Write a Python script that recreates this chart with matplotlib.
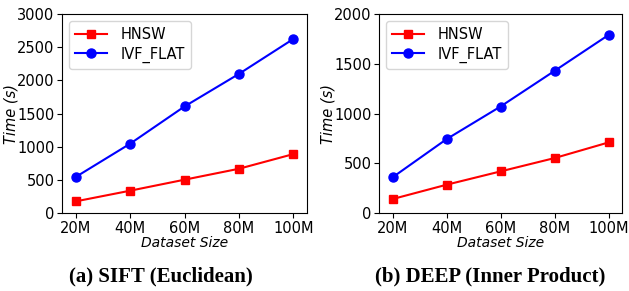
import matplotlib
matplotlib.use("Agg")
import matplotlib.pyplot as plt

sizes = ["20M", "40M", "60M", "80M", "100M"]
sift_hnsw = [175, 336, 502, 667, 888]
sift_ivf = [542, 1044, 1606, 2097, 2624]
deep_hnsw = [140, 284, 418, 552, 709]
deep_ivf = [358, 742, 1070, 1428, 1789]

fig = plt.figure(figsize=(6.29, 2.91), dpi=100)
ax1 = fig.add_axes([62/629, 1-213/291, 245/629, 199/291])
ax2 = fig.add_axes([379/629, 1-213/291, 243/629, 199/291])

x = list(range(len(sizes)))
panels = [
    (ax1, sift_hnsw, sift_ivf, 3000, [0, 500, 1000, 1500, 2000, 2500, 3000], "(a) SIFT (Euclidean)", 161/629),
    (ax2, deep_hnsw, deep_ivf, 2000, [0, 500, 1000, 1500, 2000], "(b) DEEP (Inner Product)", 490/629),
]
for ax, h, v, ymax, yt, cap, cx in panels:
    ax.plot(x, h, color="red", marker="s", markersize=6, linewidth=1.5, label="HNSW")
    ax.plot(x, v, color="blue", marker="o", markersize=6.5, linewidth=1.5, label="IVF_FLAT")
    ax.set_xlim(-0.25, 4.25)
    ax.set_ylim(0, ymax)
    ax.set_yticks(yt)
    ax.set_xticks(x)
    ax.set_xticklabels(sizes)
    ax.tick_params(labelsize=10.5, length=3.5, pad=2)
    ax.set_xlabel("Dataset Size", fontsize=10, style="italic", labelpad=0)
    ax.set_ylabel("Time (s)", fontsize=10.5, style="italic", labelpad=-1)
    ax.legend(loc="upper left", fontsize=10.5, handlelength=2.2, borderpad=0.4,
              labelspacing=0.3, borderaxespad=0.5, handletextpad=0.9)
    fig.text(cx, 1-276/291, cap, ha="center", va="center", fontsize=15,
             fontweight="bold", family="Liberation Serif")

fig.savefig("out.png", dpi=100)
